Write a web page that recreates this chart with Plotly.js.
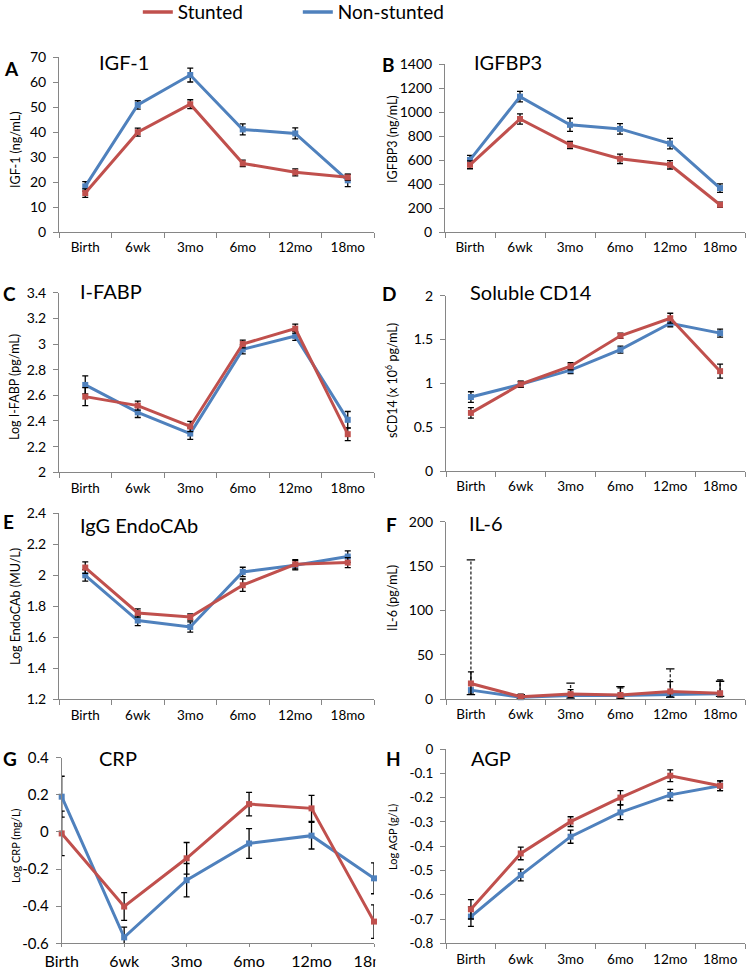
<!DOCTYPE html>
<html>
<head>
<meta charset="utf-8">
<script src="https://cdn.plot.ly/plotly-3.0.1.min.js"></script>
<style>html,body{margin:0;padding:0;background:#fff;}#chart{width:749px;height:969px;}</style>
</head>
<body>
<div id="chart"></div>
<script>
// ---------- data ----------
const cats = ["Birth", "6wk", "3mo", "6mo", "12mo", "18mo"];
const seriesNames = ["Stunted", "Non-stunted"];

const igf1Stunted = [15.6, 40.0, 51.2, 27.5, 23.9, 21.9];
const igf1StuntedErr = [1.7, 1.6, 1.8, 1.3, 1.4, 1.2];
const igf1Non = [18.3, 50.9, 62.9, 41.1, 39.5, 20.7];
const igf1NonErr = [1.9, 1.7, 2.8, 2.2, 2.2, 2.5];

const igfbp3Stunted = [560, 942, 726, 610, 560, 227];
const igfbp3StuntedErr = [33, 43, 30, 39, 35, 22];
const igfbp3Non = [601, 1128, 893, 859, 737, 366];
const igfbp3NonErr = [38, 44, 55, 44, 44, 35];

const ifabpStunted = [2.59, 2.52, 2.357, 3.0, 3.12, 2.297];
const ifabpStuntedErr = [0.07, 0.035, 0.04, 0.03, 0.035, 0.05];
const ifabpNon = [2.681, 2.467, 2.302, 2.958, 3.063, 2.409];
const ifabpNonErr = [0.07, 0.04, 0.045, 0.035, 0.035, 0.065];

const scd14Stunted = [0.663, 0.99, 1.195, 1.543, 1.743, 1.139];
const scd14StuntedErr = [0.06, 0.035, 0.04, 0.03, 0.057, 0.08];
const scd14Non = [0.844, 0.988, 1.15, 1.384, 1.686, 1.573];
const scd14NonErr = [0.06, 0.035, 0.04, 0.04, 0.04, 0.045];

const endoStunted = [2.05, 1.757, 1.731, 1.936, 2.071, 2.082];
const endoStuntedErr = [0.037, 0.026, 0.02, 0.04, 0.03, 0.032];
const endoNon = [2.0, 1.708, 1.667, 2.022, 2.065, 2.121];
const endoNonErr = [0.037, 0.033, 0.033, 0.03, 0.03, 0.037];

const il6Stunted = [17.5, 2.5, 5.5, 4.5, 8.5, 6.5];
const il6StuntedErrPlus = [13, 3, 5, 8, 11, 15];
const il6StuntedErrMinus = [12, 2, 4, 4, 6, 4];
const il6Non = [10, 2, 4, 4, 5, 6];
const il6NonErrPlus = [147, 3, 14, 10, 29, 14];
const il6NonErrMinus = [5, 1, 3, 3, 3, 3];

const crpStunted = [-0.008, -0.402, -0.142, 0.15, 0.127, -0.483];
const crpStuntedErr = [0.12, 0.075, 0.085, 0.063, 0.07, 0.09];
const crpNon = [0.19, -0.568, -0.26, -0.062, -0.02, -0.25];
const crpNonErr = [0.11, 0.055, 0.09, 0.08, 0.072, 0.083];

const agpStunted = [-0.66, -0.43, -0.299, -0.2, -0.11, -0.151];
const agpStuntedErr = [0.04, 0.026, 0.02, 0.029, 0.024, 0.02];
const agpNon = [-0.69, -0.519, -0.361, -0.261, -0.189, -0.151];
const agpNonErr = [0.04, 0.024, 0.027, 0.03, 0.023, 0.02];

const crpTickVals = [-0.6, -0.4, -0.2, 0, 0.2, 0.4];
const crpTickText = ["-0.6", "-0.4", "-0.2", "0", "0.2", "0.4"];
const agpTickVals = [-0.8, -0.7, -0.6, -0.5, -0.4, -0.3, -0.2, -0.1, 0];
const agpTickText = ["-0.8", "-0.7", "-0.6", "-0.5", "-0.4", "-0.3", "-0.2", "-0.1", "0"];

// ---------- styling ----------
const W = 749, H = 969;
const RED = "#C0504D", BLUE = "#4F81BD", AXC = "#868686";
const FONT = "Lato, 'Liberation Sans', sans-serif";
const dx = (a, b) => [a / W, b / W];
const dy = (t, b) => [1 - b / H, 1 - t / H];

const traces = [];
// legend entries (line only, as in the original)
traces.push({x: [null], y: [null], mode: "lines", name: seriesNames[0], legendrank: 1,
             line: {color: RED, width: 3.5}, hoverinfo: "skip"});
traces.push({x: [null], y: [null], mode: "lines", name: seriesNames[1], legendrank: 2,
             line: {color: BLUE, width: 3.5}, hoverinfo: "skip"});

function errObj(plus, minus) {
  return {type: "data", array: plus, arrayminus: minus || plus, symmetric: !minus,
          color: "#000", thickness: 1.3, width: 3, visible: true};
}
function addPanel(n, red, redErr, blue, blueErr, opts) {
  opts = opts || {};
  const sfx = n === 1 ? "" : String(n);
  const common = {x: cats, xaxis: "x" + sfx, yaxis: "y" + sfx, mode: "lines+markers",
                  cliponaxis: false, hoverinfo: "skip", showlegend: false};
  traces.push(Object.assign({}, common, {
    y: blue, name: seriesNames[1],
    line: {color: BLUE, width: 3}, marker: {color: BLUE, size: 6, symbol: "square"},
    error_y: blueErr ? errObj(blueErr, opts.blueErrMinus) : {visible: false}
  }));
  traces.push(Object.assign({}, common, {
    y: red, name: seriesNames[0],
    line: {color: RED, width: 3}, marker: {color: RED, size: 6, symbol: "square"},
    error_y: errObj(redErr, opts.redErrMinus)
  }));
}

addPanel(1, igf1Stunted, igf1StuntedErr, igf1Non, igf1NonErr);
addPanel(2, igfbp3Stunted, igfbp3StuntedErr, igfbp3Non, igfbp3NonErr);
addPanel(3, ifabpStunted, ifabpStuntedErr, ifabpNon, ifabpNonErr);
addPanel(4, scd14Stunted, scd14StuntedErr, scd14Non, scd14NonErr);
addPanel(5, endoStunted, endoStuntedErr, endoNon, endoNonErr);

// IL-6: non-stunted error bars are dashed -> drawn as dashed segments from the data
(function () {
  const ex = [], ey = [], cx = [], cy = [];
  cats.forEach((c, i) => {
    const lo = il6Non[i] - il6NonErrMinus[i], hi = il6Non[i] + il6NonErrPlus[i];
    ex.push(c, c, null); ey.push(lo, hi, null);
    cx.push(c, c); cy.push(lo, hi);
  });
  traces.push({x: ex, y: ey, xaxis: "x6", yaxis: "y6", mode: "lines", showlegend: false,
               hoverinfo: "skip", line: {color: "#222", width: 1.3, dash: "3px,2px"}});
  traces.push({x: cx, y: cy, xaxis: "x6", yaxis: "y6", mode: "markers", showlegend: false,
               hoverinfo: "skip", marker: {symbol: "line-ew-open", size: 6, color: "#000",
               line: {color: "#000", width: 1.3}}});
})();
addPanel(6, il6Stunted, il6StuntedErrPlus, il6Non, null, {redErrMinus: il6StuntedErrMinus});
addPanel(7, crpStunted, crpStuntedErr, crpNon, crpNonErr);
addPanel(8, agpStunted, agpStuntedErr, agpNon, agpNonErr);

// ---------- axes ----------
const layout = {
  width: W, height: H, margin: {l: 0, r: 0, t: 0, b: 0, autoexpand: false},
  paper_bgcolor: "#fff", plot_bgcolor: "rgba(0,0,0,0)",
  font: {family: FONT, color: "#000", size: 13},
  showlegend: true,
  legend: {orientation: "h", x: 0.184, xanchor: "left", y: 1.007, yanchor: "top",
           font: {size: 19, family: FONT}, entrywidth: 115, traceorder: "normal",
           bgcolor: "rgba(0,0,0,0)"},
  annotations: [], shapes: []
};

function xAxis(dom, anchor, edge) {
  return {domain: dom, anchor: anchor, type: "category", categoryarray: cats,
          range: edge ? [0, 5] : [-0.5, 5.5], tickson: edge ? "labels" : "boundaries",
          ticks: "outside", ticklen: edge ? 3 : 5, tickcolor: AXC, showline: true, linecolor: AXC,
          linewidth: 1, showgrid: false, zeroline: false, fixedrange: true, automargin: false,
          tickfont: {size: edge ? 16 : 13.5}, ticklabelstandoff: edge ? 0 : 3};
}
function yAxis(dom, anchor, range, dtick, tv, tt, fs) {
  const a = {domain: dom, anchor: anchor, range: range, dtick: dtick, tick0: range[0],
             ticks: "outside", ticklen: 5, tickcolor: AXC, showline: true, linecolor: AXC,
             linewidth: 1, showgrid: false, zeroline: false, fixedrange: true, automargin: false,
             tickfont: {size: fs || 14}, ticklabelstandoff: 4};
  if (tv) { a.tickmode = "array"; a.tickvals = tv; a.ticktext = tt; }
  return a;
}

const panels = [
  {x: [59, 374], y: [57.3, 232], r: [0, 70], d: 10},
  {x: [445, 745], y: [64, 232], r: [0, 1400], d: 200},
  {x: [59, 374], y: [292.7, 472.3], r: [2, 3.4], d: 0.2},
  {x: [446, 745], y: [295.7, 471], r: [0, 2], d: 0.5},
  {x: [59, 374], y: [513.3, 699.3], r: [1.2, 2.4], d: 0.2},
  {x: [446, 745], y: [521.7, 699], r: [0, 200], d: 50},
  {x: [61.7, 374], y: [757.7, 943.3], r: [-0.6, 0.4], d: 0.2, tv: crpTickVals, tt: crpTickText, edge: true, fs: 15},
  {x: [446, 745], y: [749, 943.3], r: [-0.8, 0], d: 0.1, tv: agpTickVals, tt: agpTickText, fs: 13.5}
];
panels.forEach((p, i) => {
  const n = i + 1, sfx = n === 1 ? "" : String(n);
  layout["xaxis" + sfx] = xAxis(dx(p.x[0], p.x[1]), "y" + sfx, p.edge);
  layout["yaxis" + sfx] = yAxis(dy(p.y[0], p.y[1]), "x" + sfx, p.r, p.d, p.tv, p.tt, p.fs);
});

// ---------- panel letters, titles, axis titles ----------
const letters = [
  ["A", 11, 68], ["B", 388, 65], ["C", 9, 293], ["D", 389, 293],
  ["E", 8, 521], ["F", 392, 524], ["G", 10, 758], ["H", 393, 758]
];
letters.forEach(l => layout.annotations.push({
  text: "<b>" + l[0] + "</b>", x: l[1] / W, y: 1 - l[2] / H, xref: "paper", yref: "paper",
  showarrow: false, xanchor: "center", yanchor: "middle", font: {size: 19, family: FONT}
}));
const titles = [
  ["IGF-1", 97, 62], ["IGFBP3", 472, 62], ["I-FABP", 78, 291], ["Soluble CD14", 468, 292],
  ["IgG EndoCAb", 78, 525], ["IL-6", 467, 523], ["CRP", 97, 758], ["AGP", 469, 758]
];
titles.forEach(t => layout.annotations.push({
  text: t[0], x: t[1] / W, y: 1 - t[2] / H, xref: "paper", yref: "paper",
  showarrow: false, xanchor: "left", yanchor: "middle", font: {size: 20, family: FONT}
}));
const yTitles = [
  ["IGF-1 (ng/mL)", 15, 150, 12.5], ["IGFBP3 (ng/mL)", 392, 139, 12.5],
  ["Log I-FABP (pg/mL)", 15, 387, 12.5], ["sCD14 (x 10<sup>6</sup> pg/mL)", 392, 380, 12.5],
  ["Log EndoCAb (MU/L)", 15, 607, 12.5], ["IL-6 (pg/mL)", 392, 598, 12.5],
  ["Log CRP (mg/L)", 15, 846, 11], ["Log AGP (g/L)", 392, 837, 11]
];
yTitles.forEach(t => layout.annotations.push({
  text: t[0], x: t[1] / W, y: 1 - t[2] / H, xref: "paper", yref: "paper", textangle: -90,
  showarrow: false, xanchor: "center", yanchor: "middle", font: {size: t[3], family: FONT}
}));

// the neighbouring panel clips the last CRP category label in the original
layout.shapes.push({type: "rect", xref: "paper", yref: "paper", layer: "above",
  x0: 375.5 / W, x1: 395 / W, y0: 0, y1: 1 - 950 / H, fillcolor: "#fff", line: {width: 0}});

Plotly.newPlot("chart", traces, layout, {staticPlot: true, displayModeBar: false});
</script>
</body>
</html>
